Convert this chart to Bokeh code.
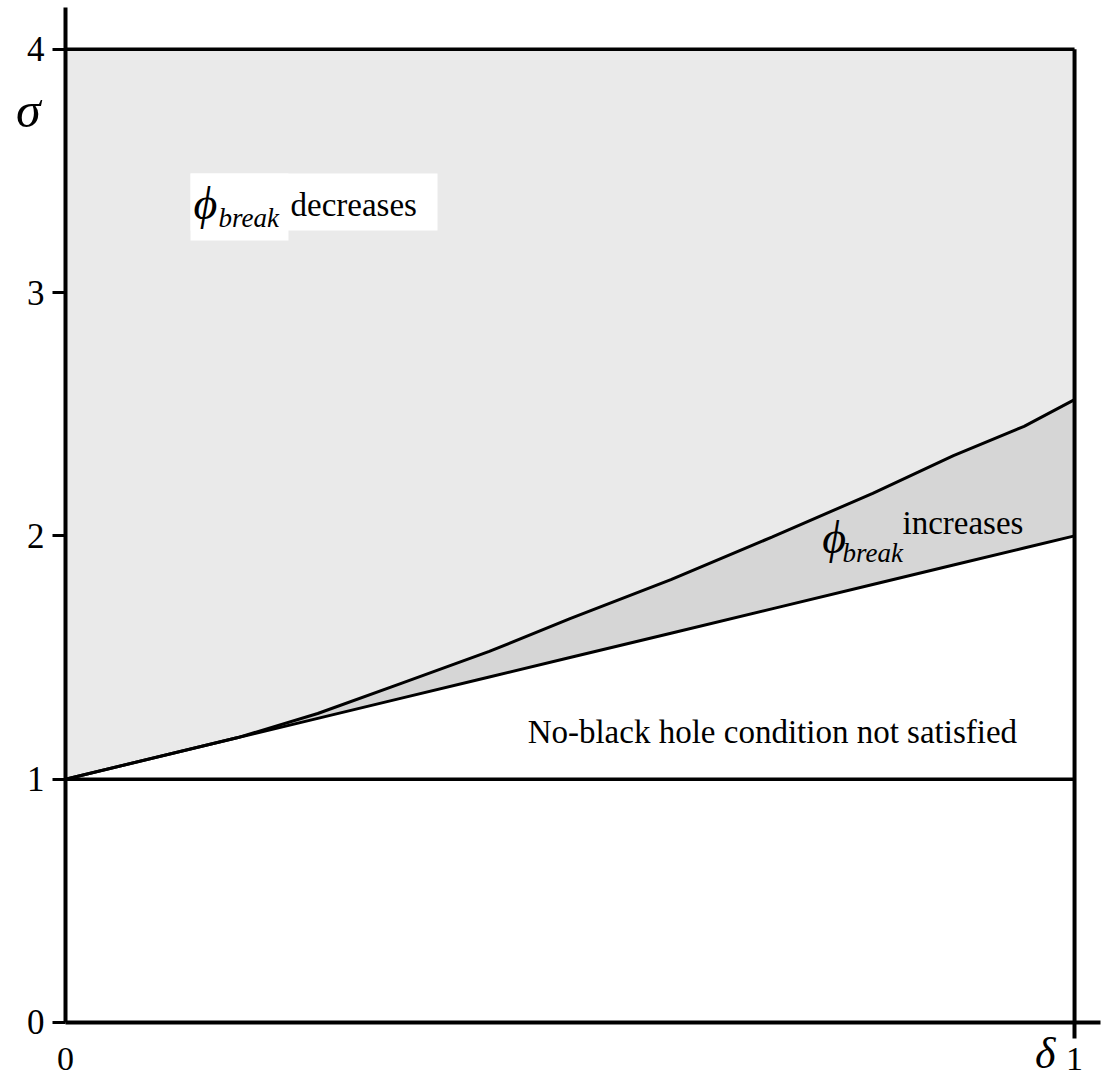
from bokeh.plotting import figure
from bokeh.models import Label, BoxAnnotation, FixedTicker, Range1d
from bokeh.embed import file_html
from bokeh.resources import INLINE

# ---- data ----
delta = [0.0, 0.17, 0.25, 0.33, 0.42, 0.50, 0.60, 0.70, 0.80, 0.88, 0.95, 1.0]
sigma_upper = [1.0, 1.17, 1.27, 1.39, 1.525, 1.66, 1.82, 1.995, 2.175, 2.33, 2.45, 2.56]
sigma_lower = [1.0, 1.17, 1.25, 1.33, 1.42, 1.50, 1.60, 1.70, 1.80, 1.88, 1.95, 2.0]
box_delta = [0.0, 1.0]
sigma_top = [4.0, 4.0]
sigma_floor = [1.0, 1.0]
right_delta = [1.0, 1.0]
right_sigma = [0.0, 4.0]
x_ticks = [0, 1]
y_ticks = [0, 1, 2, 3, 4]

SERIF = "Liberation Serif"

p = figure(width=1102, height=1077, output_backend="svg", toolbar_location=None,
           x_range=Range1d(-0.0644, 1.0277), y_range=Range1d(-0.2261, 4.2005),
           min_border_left=0, min_border_right=0, min_border_top=0, min_border_bottom=0)
p.outline_line_color = None
p.grid.visible = False
p.background_fill_color = "white"

# stippled region above upper curve
p.patch(delta + [1.0, 0.0], sigma_upper + [4.0, 4.0], fill_color="#eaeaea", line_color=None)
# solid gray wedge
p.varea(x=delta, y1=sigma_lower, y2=sigma_upper, fill_color="#d6d6d6")

# curves
p.line(delta, sigma_upper, line_color="black", line_width=3)
p.line(delta, sigma_lower, line_color="black", line_width=3)
# frame lines
p.line(box_delta, sigma_top, line_color="black", line_width=3.5)
p.line(box_delta, sigma_floor, line_color="black", line_width=3.5)
p.line(right_delta, right_sigma, line_color="black", line_width=4)

# axes (placed at the data origin)
ya = p.yaxis[0]
ya.fixed_location = 0
ya.bounds = (0, 4.172)
ya.ticker = FixedTicker(ticks=y_ticks)
ya.major_tick_out = 13
ya.major_tick_in = 0
ya.minor_tick_out = 0
ya.minor_tick_in = 0
ya.axis_line_width = 4
ya.major_tick_line_width = 3
ya.major_label_text_font = SERIF
ya.major_label_text_font_size = "35px"
ya.major_label_text_color = "black"
ya.major_label_standoff = 8

xa = p.xaxis[0]
xa.fixed_location = 0
xa.bounds = (0, 1.0257)
xa.ticker = FixedTicker(ticks=x_ticks, minor_ticks=[1])
xa.major_tick_out = 0
xa.major_tick_in = 0
xa.minor_tick_out = 16
xa.minor_tick_in = 0
xa.minor_tick_line_width = 4
xa.axis_line_width = 4
xa.major_label_text_font = SERIF
xa.major_label_text_font_size = "34px"
xa.major_label_text_color = "black"
xa.major_label_standoff = 10

# white box behind upper label
p.add_layout(BoxAnnotation(left=0.1239, right=0.3687, bottom=3.2553, top=3.4895,
                           fill_color="white", fill_alpha=1, line_color=None))
p.add_layout(BoxAnnotation(left=0.1239, right=0.221, bottom=3.2142, top=3.4895,
                           fill_color="white", fill_alpha=1, line_color=None))

def lab(x, y, text, size, italic=False, align="left", baseline="alphabetic"):
    p.add_layout(Label(x=x, y=y, text=text, text_font=SERIF, text_font_size=size,
                       text_font_style="italic" if italic else "normal",
                       text_align=align, text_baseline=baseline, text_color="black"))

lab(0.1269, 3.365, "\u03d5", "46px", italic=True)
lab(0.1516, 3.305, "break", "27px", italic=True)
lab(0.223, 3.362, "decreases", "33px")

lab(0.750, 1.994, "\u03d5", "46px", italic=True)
lab(0.770, 1.928, "break", "27px", italic=True)
lab(0.8295, 2.051, "increases", "33px")

lab(0.458, 1.192, "No-black hole condition not satisfied", "33px")

lab(-0.0367, 3.752, "\u03c3", "50px", italic=True, align="center", baseline="middle")
lab(0.971, -0.128, "\u03b4", "44px", italic=True, align="center", baseline="middle")

open("out.html", "w").write(file_html(p, INLINE))
